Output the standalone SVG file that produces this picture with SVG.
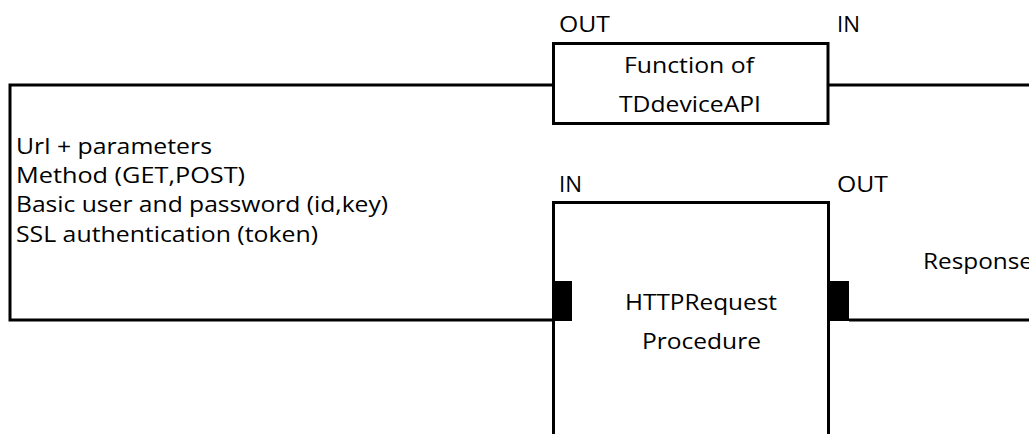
<svg xmlns="http://www.w3.org/2000/svg" width="1029" height="434" viewBox="0 0 1029 434">
  <style>
    .ln { fill: none; stroke: #000; stroke-width: 3; }
    .pad { fill: #000; }
    text { font-family: "Open Sans", "Liberation Sans", sans-serif; font-size: 22px; fill: #000; }
  </style>
  <rect width="1029" height="434" fill="#fff"/>

  <!-- wiring between the function block and the request block -->
  <g id="connectors">
    <path class="ln" d="M553,85 H10 V320 H552"/>
    <path class="ln" d="M828,85 H1029"/>
    <path class="ln" d="M849,320 H1029"/>
  </g>

  <g id="function-block">
    <rect class="ln" x="553.5" y="43.5" width="274.5" height="80" fill="#fff"/>
    <text x="559" y="32" textLength="51" lengthAdjust="spacingAndGlyphs">OUT</text>
    <text x="837" y="32" textLength="23" lengthAdjust="spacingAndGlyphs">IN</text>
    <text x="624" y="73" textLength="130" lengthAdjust="spacingAndGlyphs">Function of</text>
    <text x="619" y="112" textLength="142" lengthAdjust="spacingAndGlyphs">TDdeviceAPI</text>
  </g>

  <g id="request-params">
    <text x="16" y="153.5" textLength="196" lengthAdjust="spacingAndGlyphs">Url + parameters</text>
    <text x="16" y="183" textLength="229" lengthAdjust="spacingAndGlyphs">Method (GET,POST)</text>
    <text x="16" y="212" textLength="372" lengthAdjust="spacingAndGlyphs">Basic user and password (id,key)</text>
    <text x="16" y="241.5" textLength="302" lengthAdjust="spacingAndGlyphs">SSL authentication (token)</text>
  </g>

  <g id="http-request">
    <path class="ln" d="M553.5,434 V202.5 H828.5 V434"/>
    <rect class="pad" x="552" y="281" width="20" height="40"/>
    <rect class="pad" x="828" y="281" width="21" height="40"/>
    <text x="559" y="192" textLength="23" lengthAdjust="spacingAndGlyphs">IN</text>
    <text x="837" y="192" textLength="51" lengthAdjust="spacingAndGlyphs">OUT</text>
    <text x="625" y="310" textLength="152" lengthAdjust="spacingAndGlyphs">HTTPRequest</text>
    <text x="642" y="349" textLength="119" lengthAdjust="spacingAndGlyphs">Procedure</text>
  </g>

  <g id="response">
    <text x="923" y="269" textLength="110" lengthAdjust="spacingAndGlyphs">Response</text>
  </g>
</svg>
